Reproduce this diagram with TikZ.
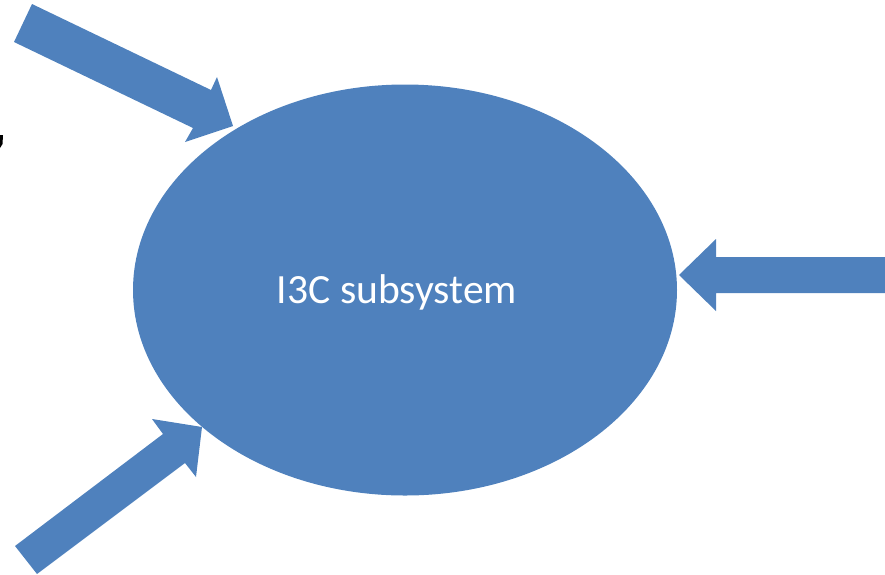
\documentclass[tikz,border=0pt]{standalone}
\usepackage{fontspec}
\setmainfont{Carlito}
\usetikzlibrary{shapes.geometric}
\definecolor{obl}{HTML}{4F81BD}
\begin{document}
\begin{tikzpicture}[x=0.03cm,y=-0.03cm,
  blob/.style={ellipse,fill=obl,draw=none,minimum width=544*0.03cm,minimum height=411*0.03cm,inner sep=0pt},
  arr/.style={fill=obl,draw=none}]
\useasboundingbox (0,0) rectangle (885,574);
\node[blob] (sys) at (405,290) {};
\node[text=white,font=\fontsize{35.5}{40}\selectfont] (lbl) at (397,292) {I3C subsystem};
% top-left arrow
\fill[arr] (32,4) -- (211,90) -- (217,77) -- (233,126) -- (185,142) -- (193,128) -- (14,42) -- cycle;
% bottom-left arrow
\fill[arr] (15,546) -- (163,434) -- (152,419) -- (202,427) -- (196,477) -- (185,463) -- (37,574) -- cycle;
% right arrow
\fill[arr] (885,257) -- (716,257) -- (716,239) -- (679,275) -- (716,311) -- (716,293) -- (885,293) -- cycle;
% clipped mark at left edge
\fill[black] (0,135) -- (3,135) -- (2.5,144) -- (0,148) -- cycle;
\end{tikzpicture}
\end{document}
